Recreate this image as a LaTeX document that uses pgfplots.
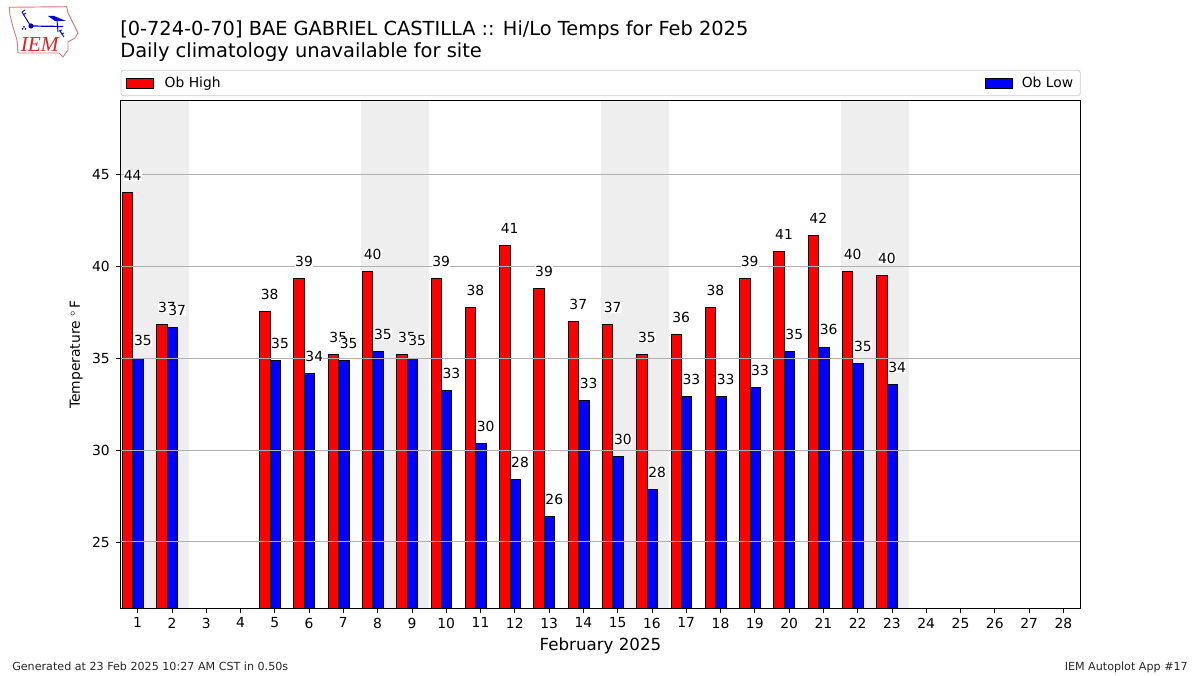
\documentclass[border=0pt]{standalone}
\usepackage{fontspec}
\setmainfont{DejaVu Sans}
\usepackage{pgfplots}
\usepackage{pgfplotstable}
\pgfplotsset{compat=1.18}
\newfontfamily\iemfont{Liberation Serif}
\definecolor{shade}{HTML}{EEEEEE}
\definecolor{gridc}{HTML}{B0B0B0}
\definecolor{legc}{HTML}{CCCCCC}
\definecolor{logored}{HTML}{E0787A}
\definecolor{logotext}{HTML}{D8262C}
\pgfplotstableread{
d hi lo hil lol
1 44.02 35.00 44 35
2 36.83 36.67 37 37
5 37.54 34.88 38 35
6 39.34 34.17 39 34
7 35.20 34.88 35 35
8 39.72 35.36 40 35
9 35.20 35.00 35 35
10 39.34 33.24 39 33
11 37.76 30.36 38 30
12 41.13 28.40 41 28
13 38.80 26.38 39 26
14 37.00 32.70 37 33
15 36.83 29.65 37 30
16 35.20 27.85 35 28
17 36.30 32.90 36 33
18 37.76 32.90 38 33
19 39.34 33.40 39 33
20 40.80 35.36 41 35
21 41.68 35.60 42 36
22 39.72 34.70 40 35
23 39.50 33.57 40 34
}\obstable
\begin{document}
\begin{tikzpicture}
\useasboundingbox (0,0) rectangle (900pt,506.25pt);
\begin{axis}[
  at={(90.375pt,49.875pt)}, anchor=south west,
  scale only axis, width=720pt, height=381pt,
  xmin=0.5, xmax=28.5, ymin=21.38, ymax=49.03,
  axis on top,
  axis line style={black, line width=0.75pt},
  xtick={1,...,28}, ytick={25,30,35,40,45},
  tick align=outside, tick pos=left,
  major tick length=3.6pt,
  tick style={black, line width=0.6pt},
  ymajorgrids, grid style={gridc, line width=0.75pt},
  tick label style={font=\fontsize{10.4}{12}\selectfont, /pgf/number format/assume math mode=true},
  xticklabel style={yshift=0.2pt},
  yticklabel style={xshift=-1pt},
  xlabel={February 2025},
  xlabel style={font=\fontsize{12.5}{15}\selectfont, yshift=0pt},
  ylabel={Temperature\ $^\circ$\,F},
  ylabel style={font=\fontsize{10.4}{12}\selectfont, yshift=0pt},
  legend columns=2,
  legend style={at={(0,1.0085)}, anchor=south west,
    draw=legc, line width=0.6pt, rounded corners=2pt, fill=white,
    font=\fontsize{10.4}{12}\selectfont,
    inner xsep=4pt, inner ysep=2.9pt,
    /tikz/column 2/.style={column sep=571.5pt}},
  legend cell align=left,
  bar width=0.305,
]
\addplot[fill=shade, draw=none, forget plot] coordinates {(0.5,21.38) (0.5,49.03) (2.5,49.03) (2.5,21.38)};
\addplot[fill=shade, draw=none, forget plot] coordinates {(7.5,21.38) (7.5,49.03) (9.5,49.03) (9.5,21.38)};
\addplot[fill=shade, draw=none, forget plot] coordinates {(14.5,21.38) (14.5,49.03) (16.5,49.03) (16.5,21.38)};
\addplot[fill=shade, draw=none, forget plot] coordinates {(21.5,21.38) (21.5,49.03) (23.5,49.03) (23.5,21.38)};
\addplot[ybar, bar shift=-0.29, fill=red, draw=black, line width=0.75pt,
  legend image code/.code={\draw[sharp corners, fill=red, draw=black, line width=0.6pt] (0pt,-3.75pt) rectangle (20.25pt,3.75pt);}]
  table[x=d,y=hi] {\obstable};
\addlegendentry{\hspace*{6pt}Ob High}
\addplot[ybar, bar shift=0.015, fill=blue, draw=black, line width=0.75pt,
  legend image code/.code={\draw[sharp corners, fill=blue, draw=black, line width=0.6pt] (0pt,-3.75pt) rectangle (20.25pt,3.75pt);}]
  table[x=d,y=lo] {\obstable};
\addlegendentry{\hspace*{4.5pt}Ob Low\hspace*{-0.75pt}}
\end{axis}
\begin{axis}[
  at={(90.375pt,49.875pt)}, anchor=south west,
  scale only axis, width=720pt, height=381pt,
  xmin=0.5, xmax=28.5, ymin=21.38, ymax=49.03,
  hide axis, clip=false,
]
\addplot[draw=none, mark=none,
  nodes near coords={\pgfplotspointmeta},
  point meta=explicit symbolic,
  every node near coord/.style={anchor=base west, inner sep=0.2pt, fill=white, yshift=9.2pt, font=\fontsize{10.4}{12}\selectfont, text=black}]
  table[x expr=\thisrow{d}-0.42, y=hi, meta=hil] {\obstable};
\addplot[draw=none, mark=none,
  nodes near coords={\pgfplotspointmeta},
  point meta=explicit symbolic,
  every node near coord/.style={anchor=base west, inner sep=0.2pt, fill=white, yshift=9.2pt, font=\fontsize{10.4}{12}\selectfont, text=black}]
  table[x expr=\thisrow{d}-0.12, y=lo, meta=lol] {\obstable};
\end{axis}
\begin{scope}[shift={(0pt,506.25pt)}, x=0.75pt, y=-0.75pt]
  \node[anchor=base west, inner sep=0pt, font=\fontsize{14.53}{17}\selectfont] at (120,36) {[0-724-0-70] BAE GABRIEL CASTILLA :: Hi/Lo Temps for Feb 2025};
  \node[anchor=base west, inner sep=0pt, font=\fontsize{14.6}{17}\selectfont] at (120,58) {Daily climatology unavailable for site};
  \node[anchor=base west, inner sep=0pt, font=\fontsize{8.35}{10}\selectfont, text=black!85] at (12,670) {Generated at 23 Feb 2025 10:27 AM CST in 0.50s};
  \node[anchor=base east, inner sep=0pt, font=\fontsize{8.35}{10}\selectfont, text=black!85] at (1188,670) {IEM Autoplot App \#17};
  % IEM logo
  \draw[logored, line width=0.7pt, line join=round]
    (9.3,7.3) -- (66.7,6.7) -- (68,13) -- (74,25) -- (78,33) -- (75,38) -- (68,42)
    -- (68,50) -- (63,57) -- (59,53) -- (18,53) -- (17,40) -- (13,27) -- (10,15) -- cycle;
  \fill[blue!85!black] (31,26) circle (2.6);
  \draw[blue!85!black, line width=0.9pt] (31,26) -- (63,26.5);
  \draw[blue!85!black, line width=0.7pt] (57,20) -- (58,32);
  \fill[blue!85!black] (48,16) -- (54,16) -- (66,21) -- (55,21) -- cycle;
  \draw[blue!85!black, line width=0.7pt] (22,12) -- (30,25) (22,12) -- (25,10) (23,15) -- (26,13);
  \draw[blue!85!black, line width=0.7pt] (60,31) -- (64,37) (59,31) -- (62,30) (61,34) -- (64,33);
  \fill[blue!70!black] (24,27) circle (1) (22.5,29) circle (1) (25.5,29) circle (1);
  \node[anchor=base west, inner sep=0pt, text=logotext, font=\iemfont\itshape\fontsize{16}{16}\selectfont] at (20.5,52) {IEM};
\end{scope}
\end{tikzpicture}
\end{document}
